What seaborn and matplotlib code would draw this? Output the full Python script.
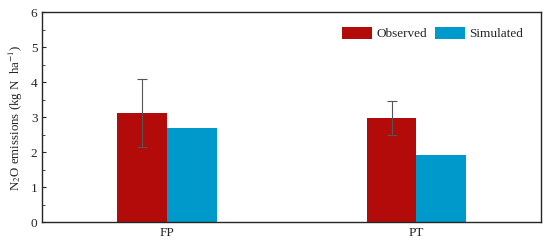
import matplotlib
matplotlib.use("Agg")
import matplotlib.pyplot as plt
import pandas as pd
import seaborn as sns
from matplotlib.ticker import MultipleLocator

treatments = ["FP", "PT"]
observed = [3.12, 2.98]
observed_err = [0.98, 0.48]
simulated = [2.69, 1.91]
series = ["Observed", "Simulated"]
colors = ["#B30A0A", "#0099CC"]

df = pd.DataFrame({
    "treatment": treatments * 2,
    "value": observed + simulated,
    "series": [series[0]] * 2 + [series[1]] * 2,
})

sns.set_style("ticks")
plt.rcParams["font.family"] = ["Liberation Serif", "DejaVu Serif"]
plt.rcParams["mathtext.fontset"] = "stix"

fig, ax = plt.subplots(figsize=(5.5, 2.47), dpi=100)
sns.barplot(data=df, x="treatment", y="value", hue="series", palette=colors,
            width=0.4, gap=0, errorbar=None, ax=ax, saturation=1,
            linewidth=0, edgecolor="none")

# error bars on the observed bars
obs_bars = ax.containers[0]
xs = [b.get_x() + b.get_width() / 2 for b in obs_bars]
ax.errorbar(xs, observed, yerr=observed_err, fmt="none", ecolor="#555555",
            elinewidth=0.8, capsize=3.5, capthick=0.8)

ax.set_xlim(-0.5, 1.5)
ax.set_ylim(0, 6)
ax.yaxis.set_major_locator(MultipleLocator(1))
ax.yaxis.set_minor_locator(MultipleLocator(0.5))
ax.tick_params(axis="both", direction="in", labelsize=9.5, length=3, width=0.8)
ax.tick_params(axis="y", which="minor", direction="in", length=2)
for s in ax.spines.values():
    s.set_visible(True)
    s.set_linewidth(1.0)
ax.set_xlabel("")
ax.set_ylabel("N$_2$O emissions (kg N  ha$^{-1}$)", fontsize=9.3, labelpad=4)

leg = ax.legend(loc="upper right", ncol=2, frameon=False, fontsize=9.5,
                handlelength=2.3, handleheight=1.0, columnspacing=0.6,
                handletextpad=0.3, borderaxespad=0,
                bbox_to_anchor=(0.974, 0.955))

fig.subplots_adjust(left=0.077, right=0.984, top=0.95, bottom=0.1)
fig.savefig("out.png", dpi=100)
